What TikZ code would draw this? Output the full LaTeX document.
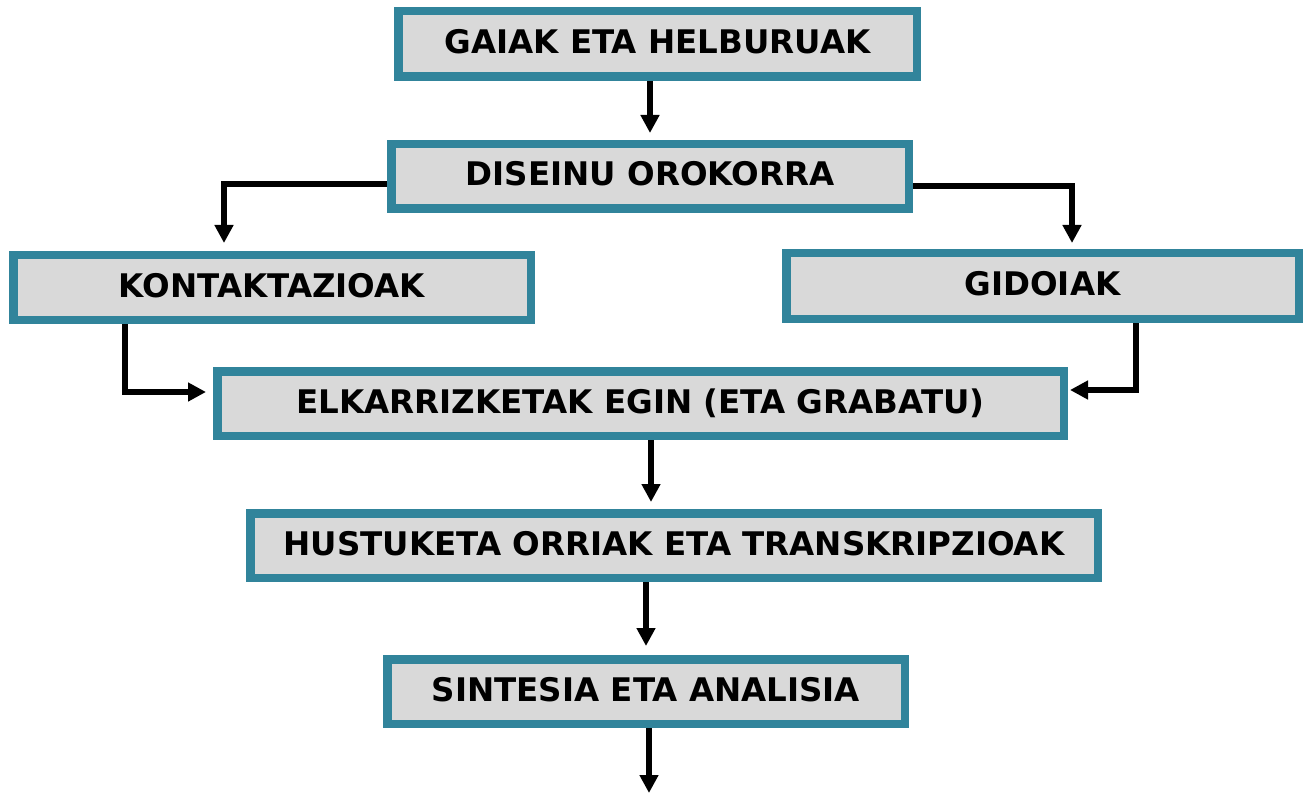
\documentclass[tikz,border=0pt]{standalone}
\usepackage{fontspec}
\setmainfont{DejaVu Sans}
\usetikzlibrary{arrows.meta}
\definecolor{tealb}{HTML}{31849B}
\definecolor{boxgray}{HTML}{D9D9D9}
\begin{document}
\begin{tikzpicture}[x=1pt,y=1pt,
 box/.style={draw=tealb,fill=boxgray,line width=8.5pt,outer sep=4.25pt,inner sep=0pt,
  minimum height=64.5pt,text height=24pt,text depth=5pt,
  font=\fontsize{32.5}{38}\selectfont\bfseries},
 arr/.style={line width=6pt,-{Triangle[width=18pt,length=18pt]}}]
 \useasboundingbox (0,0) rectangle (1303,-794);
 % boxes
 \node[box,minimum width=518.5pt,minimum height=65.5pt] (gaiak) at (657.5,-44) {GAIAK ETA HELBURUAK};
 \node[box,minimum width=517.5pt] (diseinu) at (650,-176.5) {DISEINU OROKORRA};
 \node[box,minimum width=517.5pt] (kontakt) at (272,-287.5) {KONTAKTAZIOAK};
 \node[box,minimum width=512.5pt,minimum height=65.5pt] (gidoiak) at (1042.5,-286) {GIDOIAK};
 \node[box,minimum width=846.5pt] (elkar) at (640.5,-403.5) {ELKARRIZKETAK EGIN (ETA GRABATU)};
 \node[box,minimum width=847.5pt] (hustu) at (674,-545.5) {HUSTUKETA ORRIAK ETA TRANSKRIPZIOAK};
 \node[box,minimum width=517.5pt] (sintesia) at (646,-691.5) {SINTESIA ETA ANALISIA};
 \coordinate (amaia) at (649,-793);
 % arrows
 \draw[arr,shorten >=7pt] (diseinu.north |- gaiak.south) -- (diseinu.north);
 \draw[arr,shorten >=8pt] ([yshift=-7.5pt]diseinu.west) -| ([xshift=-48pt]kontakt.north);
 \draw[arr,shorten >=6pt] ([yshift=-10pt]diseinu.east) -| ([xshift=29.5pt]gidoiak.north);
 \draw[arr,shorten >=7pt] ([xshift=-147pt]kontakt.south) |- ([yshift=11.5pt]elkar.west);
 \draw[arr,shorten >=2pt] ([xshift=93.5pt]gidoiak.south) |- ([yshift=13.5pt]elkar.east);
 \draw[arr,shorten >=7pt] ([xshift=10.5pt]elkar.south) -- ([xshift=10.5pt]elkar.south |- hustu.north);
 \draw[arr,shorten >=9pt] (sintesia.north |- hustu.south) -- (sintesia.north);
 \draw[arr] (amaia |- sintesia.south) -- (amaia);
\end{tikzpicture}
\end{document}
